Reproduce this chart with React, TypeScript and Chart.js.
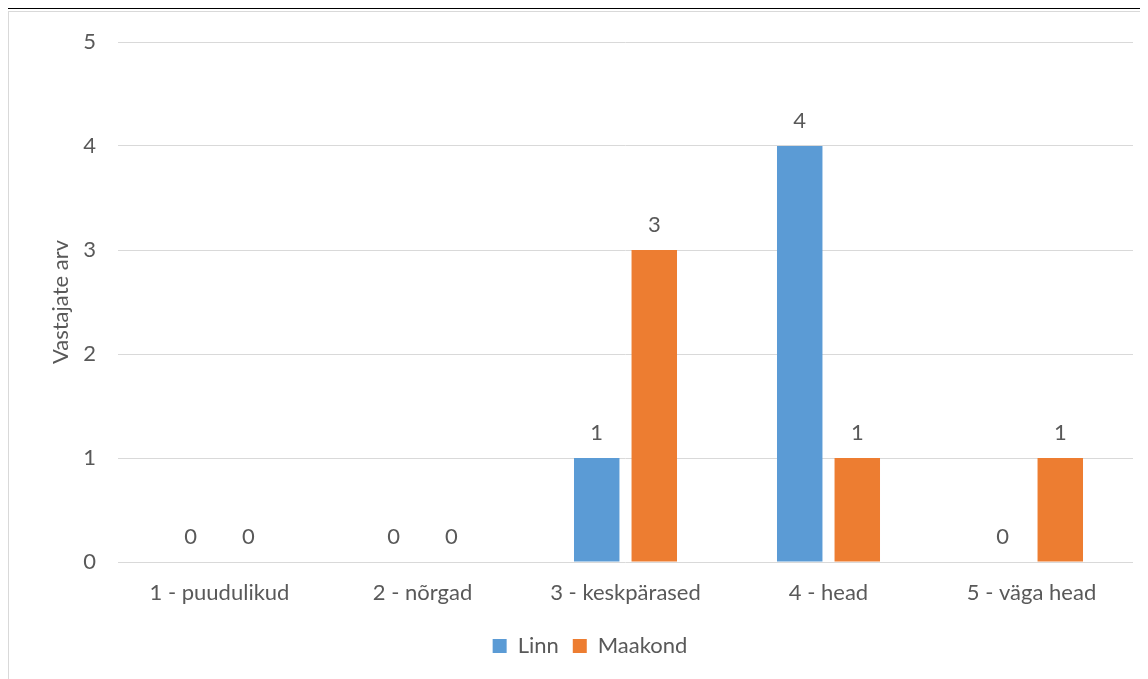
import React, { useEffect, useRef } from "react";
import { Chart, registerables } from "chart.js";

Chart.register(...registerables);

const categories = ["1 - puudulikud", "2 - nõrgad", "3 - keskpärased", "4 - head", "5 - väga head"];
const linnValues = [0, 0, 1, 4, 0];
const maakondValues = [0, 0, 3, 1, 1];
const yTicks = [0, 1, 2, 3, 4, 5];
const yTitle = "Vastajate arv";

const FONT = "Lato, 'Open Sans', sans-serif";
const TEXT = "#595959";
const FS = 22;

const labelPlugin = {
  id: "barLabels",
  afterDatasetsDraw(chart: any) {
    const ctx = chart.ctx;
    ctx.save();
    ctx.font = `${FS}px ${FONT}`;
    ctx.fillStyle = TEXT;
    ctx.textAlign = "center";
    ctx.textBaseline = "middle";
    chart.data.datasets.forEach((ds: any, di: number) => {
      const meta = chart.getDatasetMeta(di);
      meta.data.forEach((bar: any, i: number) => {
        ctx.fillText(String(ds.data[i]), bar.x, bar.y - 25);
      });
    });
    ctx.restore();
  },
};

export default function App() {
  const ref = useRef<HTMLCanvasElement>(null);
  useEffect(() => {
    const chart = new Chart(ref.current!, {
      type: "bar",
      data: {
        labels: categories,
        datasets: [
          { label: "Linn", data: linnValues, backgroundColor: "#5B9BD5", categoryPercentage: 0.567, barPercentage: 0.79 },
          { label: "Maakond", data: maakondValues, backgroundColor: "#ED7D31", categoryPercentage: 0.567, barPercentage: 0.79 },
        ],
      },
      options: {
        animation: false,
        responsive: false,
        maintainAspectRatio: false,
        layout: { padding: { top: 30, right: 15, left: 38, bottom: 12 } },
        plugins: {
          tooltip: { enabled: false },
          legend: {
            position: "bottom",
            labels: {
              boxWidth: 14,
              boxHeight: 14,
              padding: 14,
              color: TEXT,
              font: { family: FONT, size: FS },
            },
          },
        },
        scales: {
          x: {
            grid: { display: false },
            border: { display: false },
            ticks: { color: TEXT, font: { family: FONT, size: FS }, padding: 10, maxRotation: 0 },
            afterFit: (s: any) => { s.height = 59; },
          },
          y: {
            min: 0,
            max: 5,
            afterBuildTicks: (s: any) => { s.ticks = yTicks.map((v) => ({ value: v })); },
            grid: { color: "#d9d9d9", lineWidth: 1, drawTicks: false },
            border: { display: false },
            ticks: { color: TEXT, font: { family: FONT, size: FS }, padding: 22 },
            title: { display: true, text: yTitle, color: TEXT, font: { family: FONT, size: FS }, padding: { top: 1, bottom: 0 } },
            afterFit: (s: any) => {
              s.width = 71;
              s.paddingTop = 0;
              s.paddingBottom = 0;
            },
          },
        },
      },
      plugins: [labelPlugin],
    });
    return () => chart.destroy();
  }, []);

  return (
    <div style={{ position: "relative", width: 1140, height: 679, margin: 0 }}>
      <div style={{ position: "absolute", left: -3, top: -1, width: 1143, height: 2, background: "#000" }} />
      <div
        style={{
          position: "absolute",
          left: 0,
          top: 3,
          width: 1140,
          height: 668,
          borderLeft: "1px solid #d9d9d9",
          borderTop: "1px solid #d9d9d9",
          boxSizing: "border-box",
        }}
      >
        <canvas ref={ref} width={1139} height={667} style={{ display: "block" }} />
      </div>
    </div>
  );
}
